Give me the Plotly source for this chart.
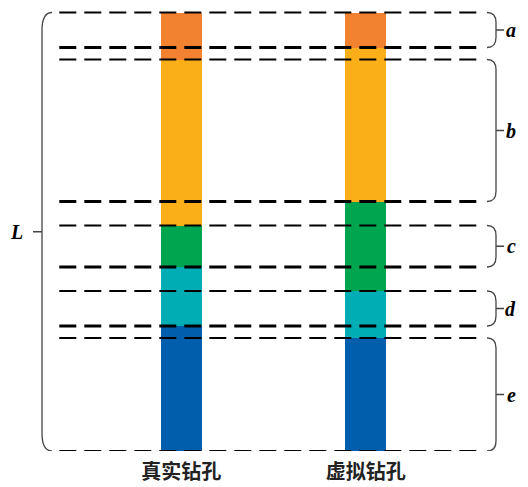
import plotly.graph_objects as go
import numpy as np

# ---- data ----
boreholes = ["真实钻孔", "虚拟钻孔"]
layer_names = ["a", "b", "c", "d", "e"]
real_thickness = [4.7, 16.6, 4.15, 5.9, 12.5]
virtual_thickness = [3.5, 15.4, 8.95, 4.7, 11.3]
layer_colors = ["#F38230", "#FAAF19", "#00A550", "#00ADB5", "#005EAC"]
total_label = "L"

# page body has an 8px margin: size the figure to the visible area
OFF = 8
W, H = 528 - 2 * OFF, 487 - OFF
fig = go.Figure()
for i, name in enumerate(layer_names):
    fig.add_trace(go.Bar(
        x=boreholes, y=[real_thickness[i], virtual_thickness[i]],
        name=name, marker=dict(color=layer_colors[i], line=dict(width=0)),
        width=41 / 184.5, showlegend=False, hoverinfo="skip"))

real_cum = np.concatenate([[0], np.cumsum(real_thickness)])
virt_cum = np.concatenate([[0], np.cumsum(virtual_thickness)])
total = float(real_cum[-1])

# intersection intervals of matching layers
inter = []
for i in range(len(layer_names)):
    top = max(real_cum[i], virt_cum[i])
    bot = min(real_cum[i + 1], virt_cum[i + 1])
    inter.append((float(top), float(bot)))

bounds = sorted(set(np.round(np.concatenate([real_cum, virt_cum]), 4).tolist()))
thick = set(round(b, 4) for (_, b) in inter[:-1])


def p(x):
    return (x - OFF) / W


shapes = []
for b in bounds:
    w = 2.8 if round(b, 4) in thick else 2.0
    shapes.append(dict(type="line", xref="paper", yref="y",
                       x0=p(59.3), x1=p(477), y0=b, y1=b,
                       line=dict(color="black", width=w, dash="17px,8px"),
                       layer="above"))

brace_col = "#444444"
label_font = dict(family="Liberation Serif", size=20, color="black",
                  style="italic", weight="bold")

annotations = []
# right braces
xi, xv, xt = p(487), p(496), p(504)
for (t, b), nm in zip(inter, layer_names):
    h = b - t
    r = min(1.0, h / 3)
    m = (t + b) / 2
    path = (f"M {xi},{t} Q {xv},{t} {xv},{t + r} L {xv},{b - r} "
            f"Q {xv},{b} {xi},{b} M {xv},{m} L {xt},{m}")
    shapes.append(dict(type="path", xref="paper", yref="y", path=path,
                       line=dict(color=brace_col, width=1.3)))
    annotations.append(dict(x=p(518), y=m, xref="paper", yref="y", text=nm,
                            xanchor="right", showarrow=False, font=label_font))

# left brace
lxi, lxv, lxt = p(52), p(42), p(33)
r = 1.8
m = total / 2
path = (f"M {lxi},0 Q {lxv},0 {lxv},{r} L {lxv},{total - r} "
        f"Q {lxv},{total} {lxi},{total} M {lxv},{m} L {lxt},{m}")
shapes.append(dict(type="path", xref="paper", yref="y", path=path,
                   line=dict(color=brace_col, width=1.3)))
annotations.append(dict(x=p(25), y=m, xref="paper", yref="y", text=total_label,
                        xanchor="right", showarrow=False, font=label_font))

# x axis: category 0 at 181.3px, category 1 at 365.8px (page coords)
px_per_cat = 184.5
x_left = -(181.3 - OFF) / px_per_cat
x_right = x_left + W / px_per_cat

fig.update_layout(
    width=W, height=H, barmode="stack", bargap=0,
    margin=dict(l=0, r=0, t=0, b=H - 443, autoexpand=False),
    plot_bgcolor="white", paper_bgcolor="white",
    xaxis=dict(range=[x_left, x_right], showgrid=False, zeroline=False,
               showline=False, ticks="", ticklabelstandoff=7, automargin=False,
               tickfont=dict(family="Noto Sans CJK SC", size=20,
                             color="#222222", weight="bold")),
    yaxis=dict(range=[total, -0.45], visible=False, showgrid=False,
               zeroline=False, automargin=False),
    shapes=shapes, annotations=annotations,
)
fig.write_html("out.html")
